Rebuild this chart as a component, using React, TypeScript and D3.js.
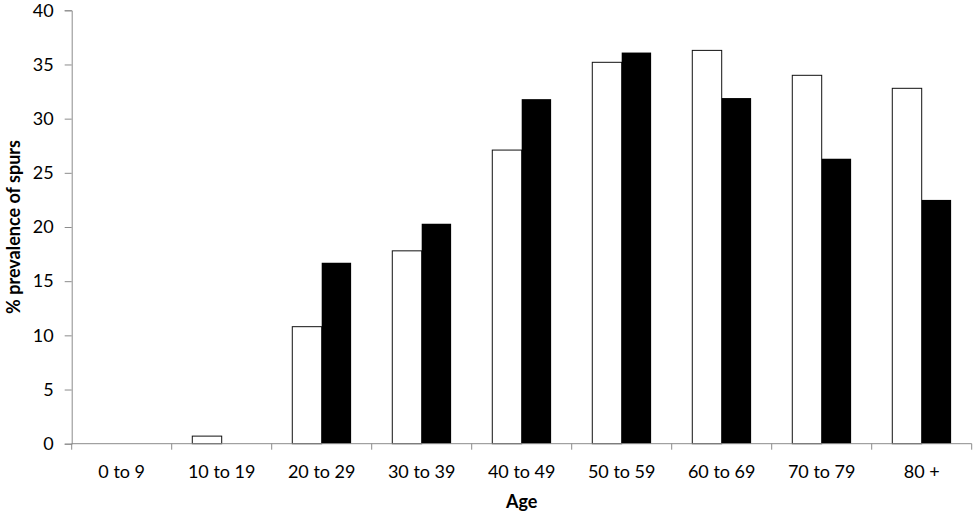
import { useEffect, useRef } from "react";
import * as d3 from "d3";

const ageGroups = [
  "0 to 9",
  "10 to 19",
  "20 to 29",
  "30 to 39",
  "40 to 49",
  "50 to 59",
  "60 to 69",
  "70 to 79",
  "80 +",
];
// white (open) bars and black (filled) bars, % prevalence
const openValues = [0, 0.7, 10.8, 17.8, 27.1, 35.2, 36.3, 34.0, 32.8];
const filledValues = [0, 0, 16.7, 20.3, 31.8, 36.1, 31.9, 26.3, 22.5];
const yTicks = [0, 5, 10, 15, 20, 25, 30, 35, 40];

const W = 978;
const H = 517;
const FONT = "Lato, 'Open Sans', sans-serif";

export default function App() {
  const svgRef = useRef<SVGSVGElement>(null);

  useEffect(() => {
    if (!svgRef.current) return;
    const margin = { top: 10.3, right: 6.3, bottom: 73.3, left: 71.7 };
    const innerW = W - margin.left - margin.right;
    const innerH = H - margin.top - margin.bottom;

    const svg = d3.select(svgRef.current);
    svg.selectAll("*").remove();

    const g = svg
      .append("g")
      .attr("transform", `translate(${margin.left},${margin.top})`);

    const x = d3.scaleBand<string>().domain(ageGroups).range([0, innerW]);
    const inner = d3
      .scaleBand<string>()
      .domain(["open", "filled"])
      .range([0, x.bandwidth()])
      .paddingOuter(0.7)
      .paddingInner(0);
    const y = d3.scaleLinear().domain([0, 40]).range([innerH, 0]);

    // y axis
    const ya = g
      .append("g")
      .call(d3.axisLeft(y).tickValues(yTicks).tickSize(7).tickPadding(11));
    ya.select(".domain").attr("stroke", "#8c8c8c");
    ya.selectAll(".tick line").attr("stroke", "#8c8c8c");
    ya.selectAll("text")
      .style("font-family", FONT)
      .style("font-size", "18px")
      .attr("fill", "#000");

    // bars
    const groups = g
      .selectAll("g.grp")
      .data(ageGroups)
      .join("g")
      .attr("class", "grp")
      .attr("transform", (d) => `translate(${x(d)},0)`);

    groups
      .append("rect")
      .attr("x", inner("open")!)
      .attr("width", inner.bandwidth())
      .attr("y", (_d, i) => y(openValues[i]))
      .attr("height", (_d, i) => innerH - y(openValues[i]))
      .attr("fill", (_d, i) => (openValues[i] > 0 ? "#fff" : "none"))
      .attr("stroke", (_d, i) => (openValues[i] > 0 ? "#111" : "none"))
      .attr("stroke-width", 1);

    groups
      .append("rect")
      .attr("x", inner("filled")!)
      .attr("width", inner.bandwidth())
      .attr("y", (_d, i) => y(filledValues[i]))
      .attr("height", (_d, i) => innerH - y(filledValues[i]))
      .attr("fill", "#000");

    // x axis with ticks at category boundaries
    const xa = g.append("g").attr("transform", `translate(0,${innerH})`);
    xa.append("line")
      .attr("x1", 0)
      .attr("x2", innerW)
      .attr("stroke", "#8c8c8c");
    const bounds = ageGroups.map((d) => x(d)!).concat([innerW]);
    xa.selectAll("line.tk")
      .data(bounds)
      .join("line")
      .attr("class", "tk")
      .attr("x1", (d) => d)
      .attr("x2", (d) => d)
      .attr("y1", 0)
      .attr("y2", 6)
      .attr("stroke", "#8c8c8c");
    xa.selectAll("text")
      .data(ageGroups)
      .join("text")
      .attr("x", (d) => x(d)! + x.bandwidth() / 2)
      .attr("y", 34)
      .attr("text-anchor", "middle")
      .style("font-family", FONT)
      .style("font-size", "18px")
      .text((d) => d);

    // axis titles
    svg
      .append("text")
      .attr("x", margin.left + innerW / 2)
      .attr("y", 508)
      .attr("text-anchor", "middle")
      .style("font-family", FONT)
      .style("font-size", "18px")
      .style("font-weight", "bold")
      .text("Age");

    svg
      .append("text")
      .attr(
        "transform",
        `translate(20,${margin.top + innerH / 2}) rotate(-90)`
      )
      .attr("text-anchor", "middle")
      .style("font-family", FONT)
      .style("font-size", "18px")
      .style("font-weight", "bold")
      .text("% prevalence of spurs");
  }, []);

  return (
    <svg
      ref={svgRef}
      width={W}
      height={H}
      style={{ position: "absolute", left: 0, top: 0, background: "#fff" }}
    />
  );
}
